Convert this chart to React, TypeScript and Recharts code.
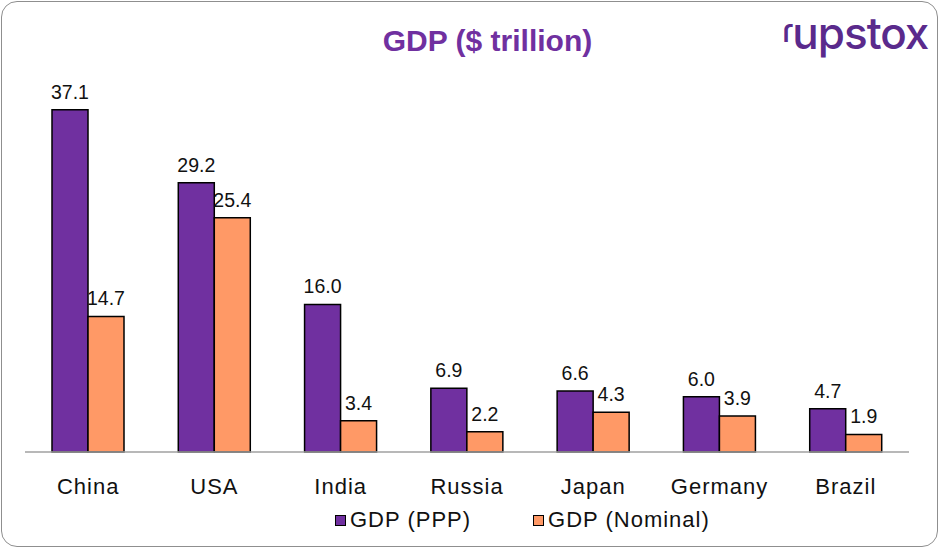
import { BarChart, Bar, XAxis, YAxis, LabelList } from 'recharts';

const countries = ['China', 'USA', 'India', 'Russia', 'Japan', 'Germany', 'Brazil'];
const gdpPpp = [37.1, 29.2, 16.0, 6.9, 6.6, 6.0, 4.7];
const gdpNominal = [14.7, 25.4, 3.4, 2.2, 4.3, 3.9, 1.9];

const PURPLE = '#7030A0';
const ORANGE = '#FF9966';
const FONT = '"Liberation Sans", Arial, sans-serif';

const data = countries.map((name, i) => ({ name, ppp: gdpPpp[i], nominal: gdpNominal[i] }));

const fmt = (v: any) => Number(v).toFixed(1);

const LegendItem = ({ color, label }: { color: string; label: string }) => (
  <div style={{ display: 'flex', alignItems: 'center', gap: 4 }}>
    <div style={{ width: 9, height: 9, background: color, border: '1.5px solid #000' }} />
    <span>{label}</span>
  </div>
);

export default function App() {
  return (
    <div
      style={{
        position: 'absolute',
        left: 0,
        top: 0,
        width: 940,
        height: 549,
        background: '#fff',
        fontFamily: FONT,
      }}
    >
      <div
        style={{
          position: 'absolute',
          left: 1,
          top: 1,
          width: 935,
          height: 544,
          border: '1.5px solid #8f8f8f',
          borderRadius: 16,
        }}
      />
      <div
        style={{
          position: 'absolute',
          top: 24,
          left: 0,
          width: 975,
          textAlign: 'center',
          color: PURPLE,
          fontWeight: 'bold',
          fontSize: 30,
          fontFamily: FONT,
        }}
      >
        GDP ($ trillion)
      </div>
      <div
        style={{
          position: 'absolute',
          top: 6,
          left: 782,
          color: '#5a2a8c',
          fontSize: 44,
          fontWeight: 500,
          fontFamily: 'Inter, sans-serif',
          letterSpacing: -1,
        }}
      >
        <span style={{ fontSize: 32, position: 'relative', top: -7 }}>ɾ</span>upstox
      </div>
      <BarChart
        width={940}
        height={549}
        data={data}
        margin={{ top: 83, right: 31, left: 25, bottom: 0 }}
        barCategoryGap={27}
        barGap={0}
      >
        <YAxis hide domain={[0, 40]} />
        <XAxis
          dataKey="name"
          height={97}
          tickLine={false}
          axisLine={{ stroke: '#a0a0a0', strokeWidth: 1.5 }}
          tickMargin={20}
          tick={{ fill: '#111', fontSize: 22, fontFamily: FONT, letterSpacing: 1 }}
          interval={0}
        />
        <Bar dataKey="ppp" fill={PURPLE} stroke="#000" strokeWidth={1.5} isAnimationActive={false}>
          <LabelList dataKey="ppp" position="top" offset={11} formatter={fmt} fill="#111" fontSize={19.5} fontFamily={FONT} />
        </Bar>
        <Bar dataKey="nominal" fill={ORANGE} stroke="#000" strokeWidth={1.5} isAnimationActive={false}>
          <LabelList dataKey="nominal" position="top" offset={11} formatter={fmt} fill="#111" fontSize={19.5} fontFamily={FONT} />
        </Bar>
      </BarChart>
      <div
        style={{
          position: 'absolute',
          top: 507,
          left: 335,
          display: 'flex',
          gap: 62,
          fontSize: 22,
          letterSpacing: 1,
          color: '#111',
        }}
      >
        <LegendItem color={PURPLE} label="GDP (PPP)" />
        <LegendItem color={ORANGE} label="GDP (Nominal)" />
      </div>
    </div>
  );
}
